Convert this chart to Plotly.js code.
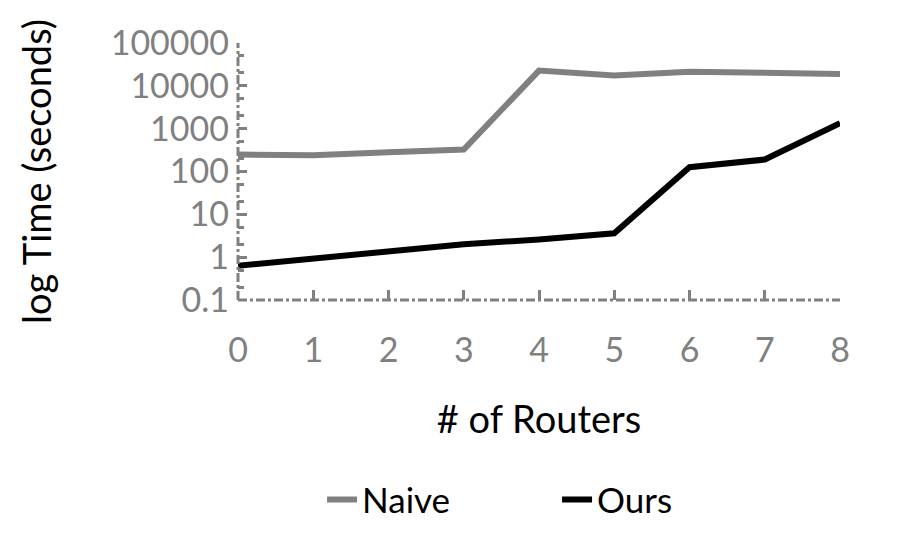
<!DOCTYPE html>
<html>
<head>
<meta charset="utf-8">
<script src="https://cdn.plot.ly/plotly-3.0.1.min.js"></script>
<style>
  body { margin: 0; background: #fff; }
  #plot { width: 900px; height: 540px; }
</style>
</head>
<body>
<div id="plot"></div>
<script>
const routers = [0, 1, 2, 3, 4, 5, 6, 7, 8];
const naiveTime = [248, 240, 280, 325, 22700, 17500, 21300, 20400, 19000];
const oursTime = [0.63, 0.92, 1.31, 2.0, 2.6, 3.6, 126, 190, 1350];
const yTickVals = [0.1, 1, 10, 100, 1000, 10000, 100000];
const yTickText = ['0.1', '1', '10', '100', '1000', '10000', '100000'];

const font = 'Lato, "Open Sans", sans-serif';
const grey = '#808080';

let naive = {
    x: routers,
    y: naiveTime,
    type: 'scatter',
    mode: 'lines',
    name: 'Naive',
    line: { color: grey, width: 6 }
};

let ours = {
    x: routers,
    y: oursTime,
    type: 'scatter',
    mode: 'lines',
    name: 'Ours',
    line: { color: '#000000', width: 6 }
};

let layout = {
    width: 900,
    height: 540,
    margin: { l: 238, r: 60, t: 43, b: 239 },
    paper_bgcolor: '#fff',
    plot_bgcolor: '#fff',
    font: { family: font, color: '#000' },
    showlegend: true,
    legend: {
        orientation: 'h',
        x: 0.53, xanchor: 'center',
        y: -0.77, yanchor: 'middle',
        font: { size: 35, color: '#000' },
        entrywidth: 190
    },
    xaxis: {
        range: [0, 8],
        tickvals: routers,
        ticks: 'inside',
        ticklen: 10,
        tickwidth: 3,
        tickcolor: grey,
        tickfont: { size: 34, color: grey },
        ticklabelstandoff: 27,
        showgrid: false,
        zeroline: false,
        showline: false,
        title: { text: '# of Routers', font: { size: 38, color: '#000' }, standoff: 38 }
    },
    yaxis: {
        type: 'log',
        range: [-1, 5],
        tickvals: yTickVals,
        ticktext: yTickText,
        ticks: 'inside',
        ticklen: 9,
        tickwidth: 3,
        tickcolor: grey,
        tickfont: { size: 34, color: grey },
        ticklabelstandoff: 8,
        minor: { ticks: 'inside', ticklen: 6, tickwidth: 3, tickcolor: grey, showgrid: false },
        showgrid: false,
        zeroline: false,
        showline: false,
        title: { text: 'log Time (seconds)', font: { size: 38, color: '#000' }, standoff: 47 }
    },
    shapes: [
        { type: 'line', xref: 'paper', yref: 'paper', x0: 0, x1: 1, y0: 0, y1: 0,
          line: { color: grey, width: 3, dash: 'dashdot' } },
        { type: 'line', xref: 'paper', yref: 'paper', x0: 0, x1: 0, y0: 0, y1: 1,
          line: { color: grey, width: 3, dash: 'dashdot' } }
    ]
};

Plotly.newPlot('plot', [naive, ours], layout, { displayModeBar: false });
</script>
</body>
</html>
